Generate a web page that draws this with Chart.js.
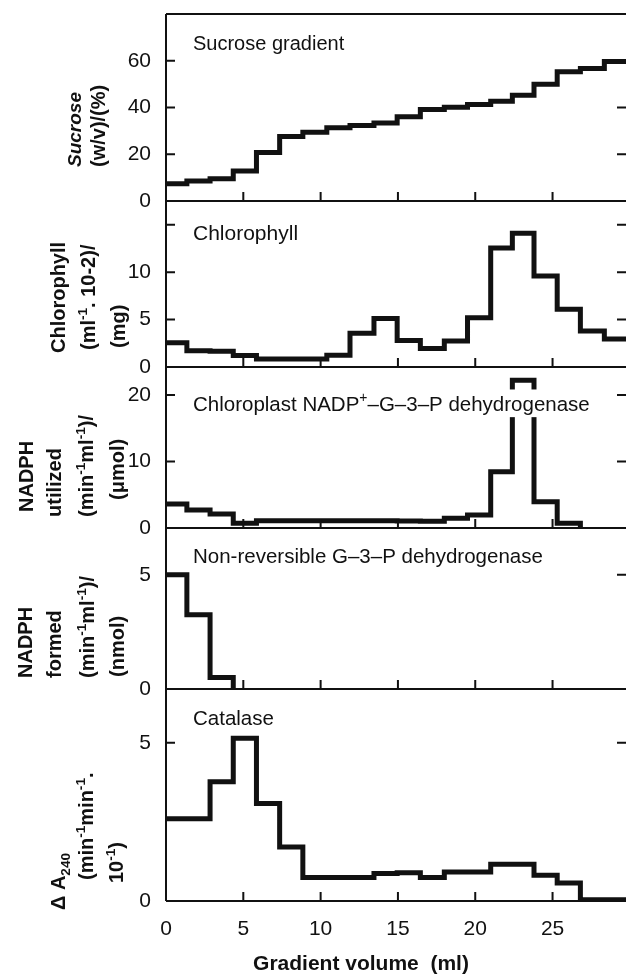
<!DOCTYPE html>
<html>
<head>
<title>Sucrose gradient fractions</title>
<script src="https://cdn.jsdelivr.net/npm/chart.js"></script>
<style>
  body { margin: 0; background: #fff; }
  canvas { display: block; }
</style>
</head>
<body>
<canvas id="chart" width="626" height="975"></canvas>
<script>
// fraction boundaries along the gradient (ml)
const fractionEdges = [0, 1.35, 2.85, 4.35, 5.85, 7.35, 8.85, 10.4, 11.9, 13.45, 14.95, 16.45, 18.0, 19.5, 21.0, 22.4, 23.8, 25.3, 26.8, 28.35, 29.8];

// one value per fraction
const sucrose = [7.4, 8.6, 9.5, 12.8, 20.7, 27.6, 29.4, 31.3, 32.3, 33.4, 36.0, 39.1, 40.1, 41.3, 42.7, 45.2, 49.9, 55.3, 56.7, 59.7];
const chlorophyll = [2.55, 1.7, 1.65, 1.2, 0.85, 0.85, 0.85, 1.25, 3.55, 5.1, 2.8, 1.95, 2.75, 5.2, 12.55, 14.1, 9.6, 6.1, 3.8, 2.95];
const nadphUtilized = [3.6, 2.7, 2.1, 0.7, 1.1, 1.1, 1.1, 1.1, 1.1, 1.1, 1.05, 1.0, 1.45, 1.95, 8.45, 22.2, 3.95, 0.7];
const nadphFormed = [5.0, 3.25, 0.5];
const catalase = [2.6, 2.6, 3.77, 5.14, 3.08, 1.71, 0.74, 0.74, 0.74, 0.87, 0.89, 0.74, 0.92, 0.92, 1.16, 1.16, 0.81, 0.57, 0.04, 0.04];

// ticks
const xTicks = [0, 5, 10, 15, 20, 25];
const sucroseTicks = [0, 20, 40, 60];
const chlorophyllTicks = [0, 5, 10, 15];
const chlorophyllLabels = [0, 5, 10];
const utilizedTicks = [0, 10, 20];
const formedTicks = [0, 5];
const catalaseTicks = [0, 5];

const FONT = "'Liberation Sans', Arial, sans-serif";

// build step points: each value holds from its left edge to the next edge
function stepPoints(values, dropToZero) {
  const pts = values.map((v, i) => ({ x: fractionEdges[i], y: v }));
  const end = fractionEdges[values.length];
  pts.push({ x: end, y: dropToZero ? 0 : values[values.length - 1] });
  return pts;
}

// panels, top to bottom
const panels = [
  { id: 'y1', values: sucrose, drop: false, max: 80, weight: 187, ticks: sucroseTicks, labels: sucroseTicks,
    label: 'Sucrose gradient', labelSize: 20, labelDy: 35.5,
    title: [
      { t: 'Sucrose', x: 74, y: 167, italic: true },
      { t: '(w/v)/(%)', x: 98, y: 167 }
    ] },
  { id: 'y2', values: chlorophyll, drop: false, max: 17.5, weight: 166, ticks: chlorophyllTicks, labels: chlorophyllLabels,
    label: 'Chlorophyll', labelSize: 21, labelDy: 38.5,
    title: [
      { t: 'Chlorophyll', x: 58, y: 353 },
      { t: '(ml^{-1}. 10-2)/', x: 88, y: 350 },
      { t: '(mg)', x: 118, y: 348 }
    ] },
  { id: 'y3', values: nadphUtilized, drop: true, max: 24.2, weight: 161, ticks: utilizedTicks, labels: utilizedTicks,
    label: 'Chloroplast NADP^{+}\u2013G\u20133\u2013P dehydrogenase', labelSize: 20.5, labelDy: 44,
    title: [
      { t: 'NADPH', x: 26, y: 512 },
      { t: 'utilized', x: 54, y: 517 },
      { t: '(min^{-1}ml^{-1})/', x: 86, y: 517 },
      { t: '(\u03bcmol)', x: 117, y: 500 }
    ] },
  { id: 'y4', values: nadphFormed, drop: true, max: 7.05, weight: 161, ticks: formedTicks, labels: formedTicks,
    label: 'Non-reversible G\u20133\u2013P dehydrogenase', labelSize: 20.5, labelDy: 35,
    title: [
      { t: 'NADPH', x: 25, y: 678 },
      { t: 'formed', x: 54, y: 678 },
      { t: '(min^{-1}ml^{-1})/', x: 87, y: 678 },
      { t: '(nmol)', x: 117, y: 677 }
    ] },
  { id: 'y5', values: catalase, drop: false, max: 6.7, weight: 212, ticks: catalaseTicks, labels: catalaseTicks,
    label: 'Catalase', labelSize: 20.5, labelDy: 36,
    title: [
      { t: '\u0394 A_{240}', x: 58, y: 910 },
      { t: '(min^{-1}min^{-1}.', x: 86, y: 880 },
      { t: '10^{-1})', x: 116, y: 883 }
    ] }
];

// text with ^{sup} and _{sub} parts, drawn from x along the baseline y
function drawRich(ctx, str, x, y, size, style) {
  const parts = str.split(/(\^\{[^}]*\}|_\{[^}]*\})/).filter(s => s.length);
  ctx.textAlign = 'left';
  ctx.textBaseline = 'alphabetic';
  let cx = x;
  parts.forEach(p => {
    let s = p, sz = size, dy = 0;
    if (p.startsWith('^{')) { s = p.slice(2, -1); sz = size * 0.68; dy = -size * 0.42; }
    else if (p.startsWith('_{')) { s = p.slice(2, -1); sz = size * 0.68; dy = size * 0.25; }
    ctx.font = style + ' ' + sz + 'px ' + FONT;
    ctx.fillText(s, cx, y + dy);
    cx += ctx.measureText(s).width;
  });
  return cx - x;
}

const framePlugin = {
  id: 'frame',
  afterDatasetsDraw(chart) {
    const ctx = chart.ctx;
    const area = chart.chartArea;
    const xs = chart.scales.x;
    ctx.save();
    ctx.strokeStyle = '#111';
    ctx.fillStyle = '#111';
    ctx.lineWidth = 2;
    ctx.beginPath();
    ctx.moveTo(area.left, area.top);
    ctx.lineTo(area.left, area.bottom);
    ctx.moveTo(area.left, area.top);
    ctx.lineTo(area.right, area.top);
    panels.forEach(p => {
      const s = chart.scales[p.id];
      ctx.moveTo(area.left, s.bottom);
      ctx.lineTo(area.right, s.bottom);
      xTicks.forEach(v => {
        if (v === 0) return;
        const px = xs.getPixelForValue(v);
        ctx.moveTo(px, s.bottom);
        ctx.lineTo(px, s.bottom - 9);
      });
      p.ticks.forEach(v => {
        if (v === 0) return;
        const py = s.getPixelForValue(v);
        ctx.moveTo(area.left, py);
        ctx.lineTo(area.left + 9, py);
        ctx.moveTo(area.right, py);
        ctx.lineTo(area.right - 9, py);
      });
    });
    ctx.stroke();

    // panel captions on a white ground
    panels.forEach(p => {
      const s = chart.scales[p.id];
      const y = s.top + p.labelDy;
      ctx.fillStyle = '#fff';
      const w = drawRich(ctx, p.label, -2000, 0, p.labelSize, 'normal');
      ctx.fillRect(area.left + 24, y - p.labelSize * 1.05, w + 8, p.labelSize * 1.35);
      ctx.fillStyle = '#111';
      drawRich(ctx, p.label, area.left + 27, y, p.labelSize, 'normal');

      // rotated axis titles
      p.title.forEach(l => {
        ctx.save();
        ctx.translate(l.x, l.y);
        ctx.rotate(-Math.PI / 2);
        const size = l.italic ? 19 : 20;
        drawRich(ctx, l.t, 0, size * 0.36, size, l.italic ? 'italic bold' : 'bold');
        ctx.restore();
      });
    });

    ctx.font = 'bold 21px ' + FONT;
    ctx.textAlign = 'center';
    ctx.textBaseline = 'alphabetic';
    ctx.fillText('Gradient volume  (ml)', 361, 970);
    ctx.restore();
  }
};

// keep the plot box fixed: no extra room for overhanging tick labels
function noPadding(s) {
  s.paddingTop = 0;
  s.paddingBottom = 0;
  s.paddingLeft = 0;
  s.paddingRight = 0;
}

const scales = {
  x: {
    type: 'linear',
    position: 'bottom',
    min: 0,
    max: 29.75,
    grid: { display: false },
    border: { display: false },
    afterBuildTicks: s => { s.ticks = xTicks.map(v => ({ value: v })); },
    afterFit: s => { s.height = 74; noPadding(s); },
    ticks: { autoSkip: false, padding: 8, color: '#111', font: { family: FONT, size: 21 } }
  }
};
// stacked axes are laid out bottom-up, so add the lowest panel first
panels.slice().reverse().forEach(p => {
  scales[p.id] = {
    type: 'linear',
    position: 'left',
    stack: 'panels',
    stackWeight: p.weight,
    min: 0,
    max: p.max,
    grid: { display: false },
    border: { display: false },
    afterBuildTicks: s => { s.ticks = p.ticks.map(v => ({ value: v })); },
    afterFit: s => { s.width = 166; noPadding(s); },
    ticks: {
      autoSkip: false,
      padding: 7,
      color: '#111',
      font: { family: FONT, size: 21 },
      callback: v => p.labels.includes(v) ? String(v) : ''
    }
  };
});

new Chart(document.getElementById('chart'), {
  type: 'line',
  data: {
    datasets: panels.map(p => ({
      data: stepPoints(p.values, p.drop),
      yAxisID: p.id,
      xAxisID: 'x',
      stepped: true,
      borderColor: '#111',
      borderWidth: 5,
      borderJoinStyle: 'miter',
      borderCapStyle: 'butt',
      pointRadius: 0,
      fill: false,
      tension: 0
    }))
  },
  options: {
    responsive: false,
    animation: false,
    layout: { padding: { top: 14, left: 0, right: 0, bottom: 0 } },
    plugins: { legend: { display: false }, tooltip: { enabled: false } },
    scales: scales
  },
  plugins: [framePlugin]
});
</script>
</body>
</html>
